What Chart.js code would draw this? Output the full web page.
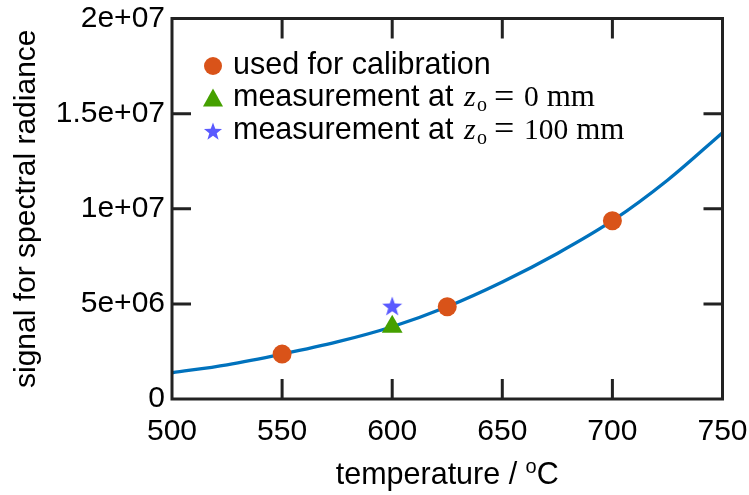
<!DOCTYPE html>
<html>
<head>
<meta charset="utf-8">
<script src="https://cdn.jsdelivr.net/npm/chart.js@4/dist/chart.umd.min.js"></script>
<style>
html,body{margin:0;padding:0;background:#fff;}
#wrap{width:749px;height:495px;position:relative;}
</style>
</head>
<body>
<div id="wrap"><canvas id="c" width="749" height="495"></canvas></div>
<script>
// ---- data ----
const curveTemps = [500, 525, 550, 575, 600, 625, 650, 675, 700, 725, 750];
const curveSignal = [1.38e6, 1.80e6, 2.36e6, 3.00e6, 3.80e6, 4.85e6, 6.15e6, 7.65e6, 9.37e6, 11.5e6, 14.0e6];
const calibTemps = [550, 625, 700];
const calibSignal = [2.36e6, 4.85e6, 9.37e6];
const meas0Temps = [600];
const meas0Signal = [3.80e6];
const meas100Temps = [600];
const meas100Signal = [4.89e6];
const xTicks = [500, 550, 600, 650, 700, 750];
const yTicks = [0, 5e6, 1e7, 1.5e7, 2e7];
const yTickLabels = ['0', '5e+06', '1e+07', '1.5e+07', '2e+07'];
const legendLabels = ['used for calibration', 'measurement at ', 'measurement at '];
const legendZValues = ['', '0', '100'];
const legendUnit = 'mm';
const xTitle = ['temperature / ', 'o', 'C'];
const yTitle = 'signal for spectral radiance';

const C_CURVE = '#0072BD', C_CAL = '#D95319', C_TRI = '#45A000', C_STAR = '#5A5AFF', C_AX = '#222222';
const SANS = '"Liberation Sans", Arial, sans-serif';
const SERIF = '"Liberation Serif", "Times New Roman", serif';

function starCanvas(size, outer, inner, color) {
  const cv = document.createElement('canvas');
  cv.width = size; cv.height = size;
  const g = cv.getContext('2d');
  g.fillStyle = color;
  g.beginPath();
  const cx = size / 2, cy = size / 2 + outer * 0.1;
  for (let i = 0; i < 10; i++) {
    const r = i % 2 === 0 ? outer : inner;
    const a = -Math.PI / 2 + i * Math.PI / 5;
    const px = cx + r * Math.cos(a), py = cy + r * Math.sin(a);
    if (i === 0) g.moveTo(px, py); else g.lineTo(px, py);
  }
  g.closePath();
  g.fill();
  return cv;
}
const starImg = starCanvas(22, 10.5, 4.3, C_STAR);
const starLegend = starCanvas(20, 9.5, 3.9, C_STAR);

const pts = (xs, ys) => xs.map((x, i) => ({x: x, y: ys[i]}));

const framePlugin = {
  id: 'frame',
  beforeDatasetsDraw(chart) {
    const {ctx, chartArea: a, scales: {x, y}} = chart;
    ctx.save();
    ctx.strokeStyle = C_AX;
    ctx.lineWidth = 3;
    ctx.lineCap = 'butt';
    ctx.beginPath();
    xTicks.forEach(v => {
      if (v === xTicks[0] || v === xTicks[xTicks.length - 1]) return;
      const px = x.getPixelForValue(v);
      ctx.moveTo(px, a.bottom); ctx.lineTo(px, a.bottom - 20);
      ctx.moveTo(px, a.top); ctx.lineTo(px, a.top + 20);
    });
    yTicks.forEach(v => {
      if (v === yTicks[0] || v === yTicks[yTicks.length - 1]) return;
      const py = y.getPixelForValue(v);
      ctx.moveTo(a.left, py); ctx.lineTo(a.left + 19, py);
      ctx.moveTo(a.right, py); ctx.lineTo(a.right - 19, py);
    });
    ctx.stroke();
    ctx.restore();
  },
  afterDatasetsDraw(chart) {
    const {ctx, chartArea: a} = chart;
    ctx.save();
    ctx.strokeStyle = C_AX;
    ctx.lineWidth = 3;
    ctx.lineJoin = 'miter';
    ctx.strokeRect(a.left, a.top, a.right - a.left, a.bottom - a.top);
    ctx.restore();
  },
  afterDraw(chart) {
    const {ctx, chartArea: a} = chart;
    ctx.save();
    // legend
    const mx = 213, tx = 233;
    const rows = [66, 98.5, 131];
    const bases = [73.5, 106, 138.5];
    ctx.fillStyle = C_CAL;
    ctx.beginPath(); ctx.arc(mx, rows[0], 9, 0, Math.PI * 2); ctx.fill();
    ctx.fillStyle = C_TRI;
    ctx.beginPath();
    ctx.moveTo(mx, rows[1] - 10); ctx.lineTo(mx + 10, rows[1] + 8); ctx.lineTo(mx - 10, rows[1] + 8);
    ctx.closePath(); ctx.fill();
    ctx.drawImage(starLegend, mx - 10, rows[2] - 10);
    ctx.fillStyle = '#000';
    ctx.textBaseline = 'alphabetic';
    ctx.textAlign = 'left';
    for (let i = 0; i < 3; i++) {
      ctx.font = '30.5px ' + SANS;
      ctx.fillText(legendLabels[i], tx, bases[i]);
      if (legendZValues[i]) {
        const zx = 464;
        ctx.font = 'italic 30px ' + SERIF;
        ctx.fillText('z', zx, bases[i]);
        ctx.font = '20px ' + SERIF;
        ctx.fillText('o', 477, bases[i] + 5);
        ctx.font = '36px ' + SERIF;
        ctx.fillText('=', 494, bases[i] + 1.5);
        ctx.font = '29.5px ' + SERIF;
        ctx.fillText(legendZValues[i], 524, bases[i]);
        const nw = ctx.measureText(legendZValues[i]).width;
        ctx.font = '31px ' + SERIF;
        ctx.fillText(legendUnit, 524 + nw + 8, bases[i]);
      }
    }
    // x title with superscript
    const cx = (a.left + a.right) / 2;
    const by = 484;
    ctx.font = '30.5px ' + SANS;
    const w1 = ctx.measureText(xTitle[0]).width;
    const w3 = ctx.measureText(xTitle[2]).width;
    ctx.font = '20px ' + SANS;
    const w2 = ctx.measureText(xTitle[1]).width;
    let sx = cx - (w1 + w2 + w3) / 2;
    ctx.font = '30.5px ' + SANS;
    ctx.fillText(xTitle[0], sx, by);
    ctx.font = '20px ' + SANS;
    ctx.fillText(xTitle[1], sx + w1, by - 11);
    ctx.font = '30.5px ' + SANS;
    ctx.fillText(xTitle[2], sx + w1 + w2, by);
    ctx.restore();
  }
};

new Chart(document.getElementById('c'), {
  type: 'scatter',
  data: {
    datasets: [
      {label: 'used for calibration', data: pts(calibTemps, calibSignal), pointStyle: 'circle', pointRadius: 9.5,
       pointHoverRadius: 9.5, backgroundColor: C_CAL, borderColor: C_CAL, borderWidth: 0, order: 1},
      {label: 'measurement at zo = 0 mm', data: pts(meas0Temps, meas0Signal), pointStyle: 'triangle', pointRadius: 12,
       backgroundColor: C_TRI, borderColor: C_TRI, borderWidth: 0, order: 2},
      {label: 'measurement at zo = 100 mm', data: pts(meas100Temps, meas100Signal), pointStyle: starImg,
       backgroundColor: C_STAR, borderColor: C_STAR, order: 3},
      {label: 'fit', data: pts(curveTemps, curveSignal), showLine: true, pointRadius: 0, borderColor: C_CURVE,
       borderWidth: 3.3, cubicInterpolationMode: 'monotone', fill: false, order: 10}
    ]
  },
  options: {
    responsive: false,
    animation: false,
    events: [],
    layout: {padding: {left: 0, right: 26.5, top: 18.5, bottom: 0}},
    plugins: {legend: {display: false}, tooltip: {enabled: false}},
    scales: {
      x: {
        type: 'linear', min: 500, max: 750,
        afterBuildTicks: s => { s.ticks = xTicks.map(v => ({value: v})); },
        afterFit: s => { s.height = 96; s.paddingLeft = 0; s.paddingRight = 0; },
        grid: {display: false, drawTicks: false},
        border: {display: false},
        ticks: {color: '#000', font: {family: SANS, size: 30}, padding: 15, maxRotation: 0, autoSkip: false,
                callback: v => String(v)}
      },
      y: {
        type: 'linear', min: 0, max: 2e7,
        afterBuildTicks: s => { s.ticks = yTicks.map(v => ({value: v})); },
        afterFit: s => { s.width = 172; s.paddingTop = 0; s.paddingBottom = 0; },
        grid: {display: false, drawTicks: false},
        border: {display: false},
        ticks: {color: '#000', font: {family: SANS, size: 30}, padding: 7, autoSkip: false,
                callback: v => { const i = yTicks.indexOf(v); return i >= 0 ? yTickLabels[i] : ''; }},
        title: {display: true, text: yTitle, color: '#000', font: {family: SANS, size: 30}, padding: {top: 9, bottom: 0}}
      }
    }
  },
  plugins: [framePlugin]
});
</script>
</body>
</html>
